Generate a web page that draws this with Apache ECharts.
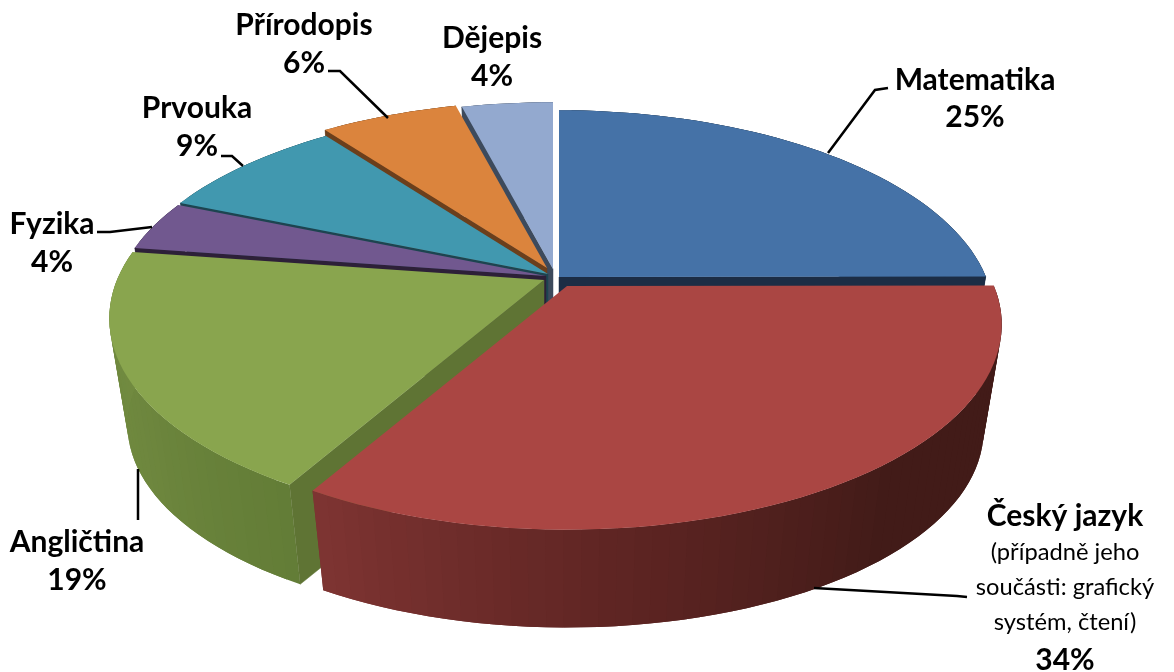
<!DOCTYPE html>
<html>
<head>
<meta charset="utf-8">
<style>html,body{margin:0;padding:0;background:#fff}#c{width:1174px;height:672px}</style>
<script src="https://cdn.jsdelivr.net/npm/echarts@6/dist/echarts.min.js"></script>
</head>
<body>
<div id="c"></div>
<script>
// ---- data ----
const categories = ['Matematika', 'Český jazyk', 'Angličtina', 'Fyzika', 'Prvouka', 'Přírodopis', 'Dějepis'];
const percentValues = [25.2, 33.7, 19.2, 4, 8.6, 6.2, 4.1];
const noteLines = { 'Český jazyk': ['(případně jeho', 'součásti: grafický', 'systém, čtení)'] };

// ---- style ----
const topColors = ['#4572A7', '#AA4643', '#89A54E', '#71588F', '#4198AF', '#DB843D', '#93A9CF'];
const cutColors = ['#1c2d45', '#5a2523', '#5f7434', '#2d2038', '#1d4450', '#6b3f1c', '#3d4a5c'];
// wall shading: colour stops over the slice's angular span (deg)
const wallStops = [
  [[0, '#22384f'], [90, '#22384f']],
  [[0, '#421b18'], [140, '#421b18'], [175, '#5f2523'], [212, '#803533']],
  [[208, '#627c36'], [240, '#6e873e'], [280, '#728c41']],
  [[0, '#3a2c49'], [360, '#3a2c49']],
  [[0, '#20505c'], [360, '#20505c']],
  [[0, '#70431f'], [360, '#70431f']],
  [[0, '#4b586b'], [360, '#4b586b']]
];
// ---- 3D layout ----
const view = { cx: 555, cy: 279, rx: 427, ry: 198, k: 0.1875, drop: 108, shrink: 0.958 };
const explode = [[4, -2], [12, 7], [-11, 1], [-9, -3], [-7, -5], [-8, -11], [-2, -10]];
const drawOrder = [6, 5, 4, 3, 0, 2, 1];
const labelLayout = [
  { x: 975, y: 80, lh: 37, leader: [[828, 153], [875, 90], [888, 88]] },
  { x: 1065, y: 516, lh: 37, leader: [[814, 588], [957, 596], [967, 597]] },
  { x: 77, y: 542, lh: 38, leader: [[138, 469], [138, 520]] },
  { x: 52, y: 224, lh: 38, leader: [[152, 227], [110, 232], [97, 232]] },
  { x: 197, y: 108, lh: 38, leader: [[243, 166], [232, 156], [221, 156]] },
  { x: 304, y: 25, lh: 38, leader: [[388, 118], [340, 71], [328, 71]] },
  { x: 492, y: 38, lh: 38, leader: null }
];
const FONT = 'Lato, Carlito, "Open Sans", sans-serif';

const total = percentValues.reduce((a, b) => a + b, 0);
const spans = [];
percentValues.reduce((acc, v) => { const e = acc + v / total * 360; spans.push([acc, e]); return e; }, 0);

function project(i, deg, bottom, atCenter) {
  const t = deg * Math.PI / 180;
  const X = atCenter ? 0 : Math.sin(t), Y = atCenter ? 0 : Math.cos(t);
  const s = 1 / (1 + view.k * Y);
  const f = bottom ? view.shrink : 1;
  return [
    view.cx + explode[i][0] + view.rx * X * s * f,
    view.cy + explode[i][1] + (bottom ? view.drop : 0) - view.ry * Y * s * f
  ];
}
function hex(c) { return [1, 3, 5].map(p => parseInt(c.substr(p, 2), 16)); }
function wallColor(i, deg) {
  const st = wallStops[i];
  if (deg <= st[0][0]) return st[0][1];
  for (let j = 1; j < st.length; j++) {
    if (deg <= st[j][0]) {
      const u = (deg - st[j - 1][0]) / (st[j][0] - st[j - 1][0]);
      const a = hex(st[j - 1][1]), b = hex(st[j][1]);
      return 'rgb(' + a.map((v, n) => Math.round(v + (b[n] - v) * u)).join(',') + ')';
    }
  }
  return st[st.length - 1][1];
}
function cutVisible(i, deg) {
  const A = project(i, 0, false, true), P = project(i, deg, false);
  const mid = (spans[i][0] + spans[i][1]) / 2, I = project(i, mid, false);
  const d = [P[0] - A[0], P[1] - A[1]];
  if (Math.abs(d[0]) < 1) return false;
  const c1 = d[0] * (I[1] - A[1]) - d[1] * (I[0] - A[0]);
  return c1 * d[0] < 0;
}
function renderSlice(params, api) {
  const i = api.value(1);
  const [a0, a1] = spans[i];
  const children = [];
  const order = drawOrder.indexOf(i) * 10;
  const steps = Math.max(2, Math.ceil((a1 - a0) / 2));
  const arc = [];
  for (let n = 0; n <= steps; n++) arc.push(a0 + (a1 - a0) * n / steps);
  // outer wall as shaded bands; each band runs under the next so no seams show
  for (let n = 0; n < steps; n++) {
    const c = wallColor(i, (arc[n] + arc[n + 1]) / 2);
    const pts = [];
    const last = Math.min(n + 2, steps);
    for (let m = n; m <= last; m++) pts.push(project(i, arc[m], false));
    for (let m = last; m >= n; m--) pts.push(project(i, arc[m], true));
    children.push({
      type: 'polygon', z2: order + n * 0.001,
      shape: { points: pts },
      style: { fill: c }
    });
  }
  // cut faces, over the wall so their shared edge stays closed
  [a0, a1].forEach(deg => {
    if (cutVisible(i, deg)) {
      children.push({
        type: 'polygon', z2: order + 1,
        shape: { points: [project(i, 0, false, true), project(i, deg, false), project(i, deg, true), project(i, 0, true, true)] },
        style: { fill: cutColors[i], stroke: cutColors[i], lineWidth: 0.5 }
      });
    }
  });
  // top face
  children.push({
    type: 'polygon', z2: order + 2,
    shape: { points: [project(i, 0, false, true)].concat(arc.map(d => project(i, d, false))) },
    style: { fill: topColors[i] }
  });
  return { type: 'group', children };
}
function renderLabel(params, api) {
  const i = api.value(1);
  const L = labelLayout[i];
  const children = [];
  if (L.leader) {
    children.push({ type: 'polyline', z2: 100, shape: { points: L.leader },
      style: { stroke: '#000', lineWidth: 2.5, fill: null } });
  }
  const boldFont = 'bold 30px ' + FONT, normFont = '400 23.7px ' + FONT;
  const name = categories[i];
  const notes = noteLines[name] || [];
  const put = (text, y, font) => children.push({ type: 'text', z2: 101,
    style: { text, x: L.x, y, font, fill: '#000', align: 'center', verticalAlign: 'middle' } });
  put(name, L.y, boldFont);
  let y = L.y + L.lh;
  notes.forEach((t, n) => { put(t, L.y + 36 + n * 35, normFont); y = L.y + 36 + (n + 1) * 36; });
  put(Math.round(api.value(0)) + '%', y, boldFont);
  return { type: 'group', children };
}
const seriesData = drawOrder.map(i => [percentValues[i], i]);
const chart = echarts.init(document.getElementById('c'), null, { renderer: 'canvas' });
chart.setOption({
  animation: false,
  backgroundColor: '#fff',
  series: [
    { type: 'custom', coordinateSystem: 'none', renderItem: renderSlice, data: seriesData, silent: true },
    { type: 'custom', coordinateSystem: 'none', renderItem: renderLabel, data: seriesData, silent: true, z: 5 }
  ]
});
</script>
</body>
</html>
